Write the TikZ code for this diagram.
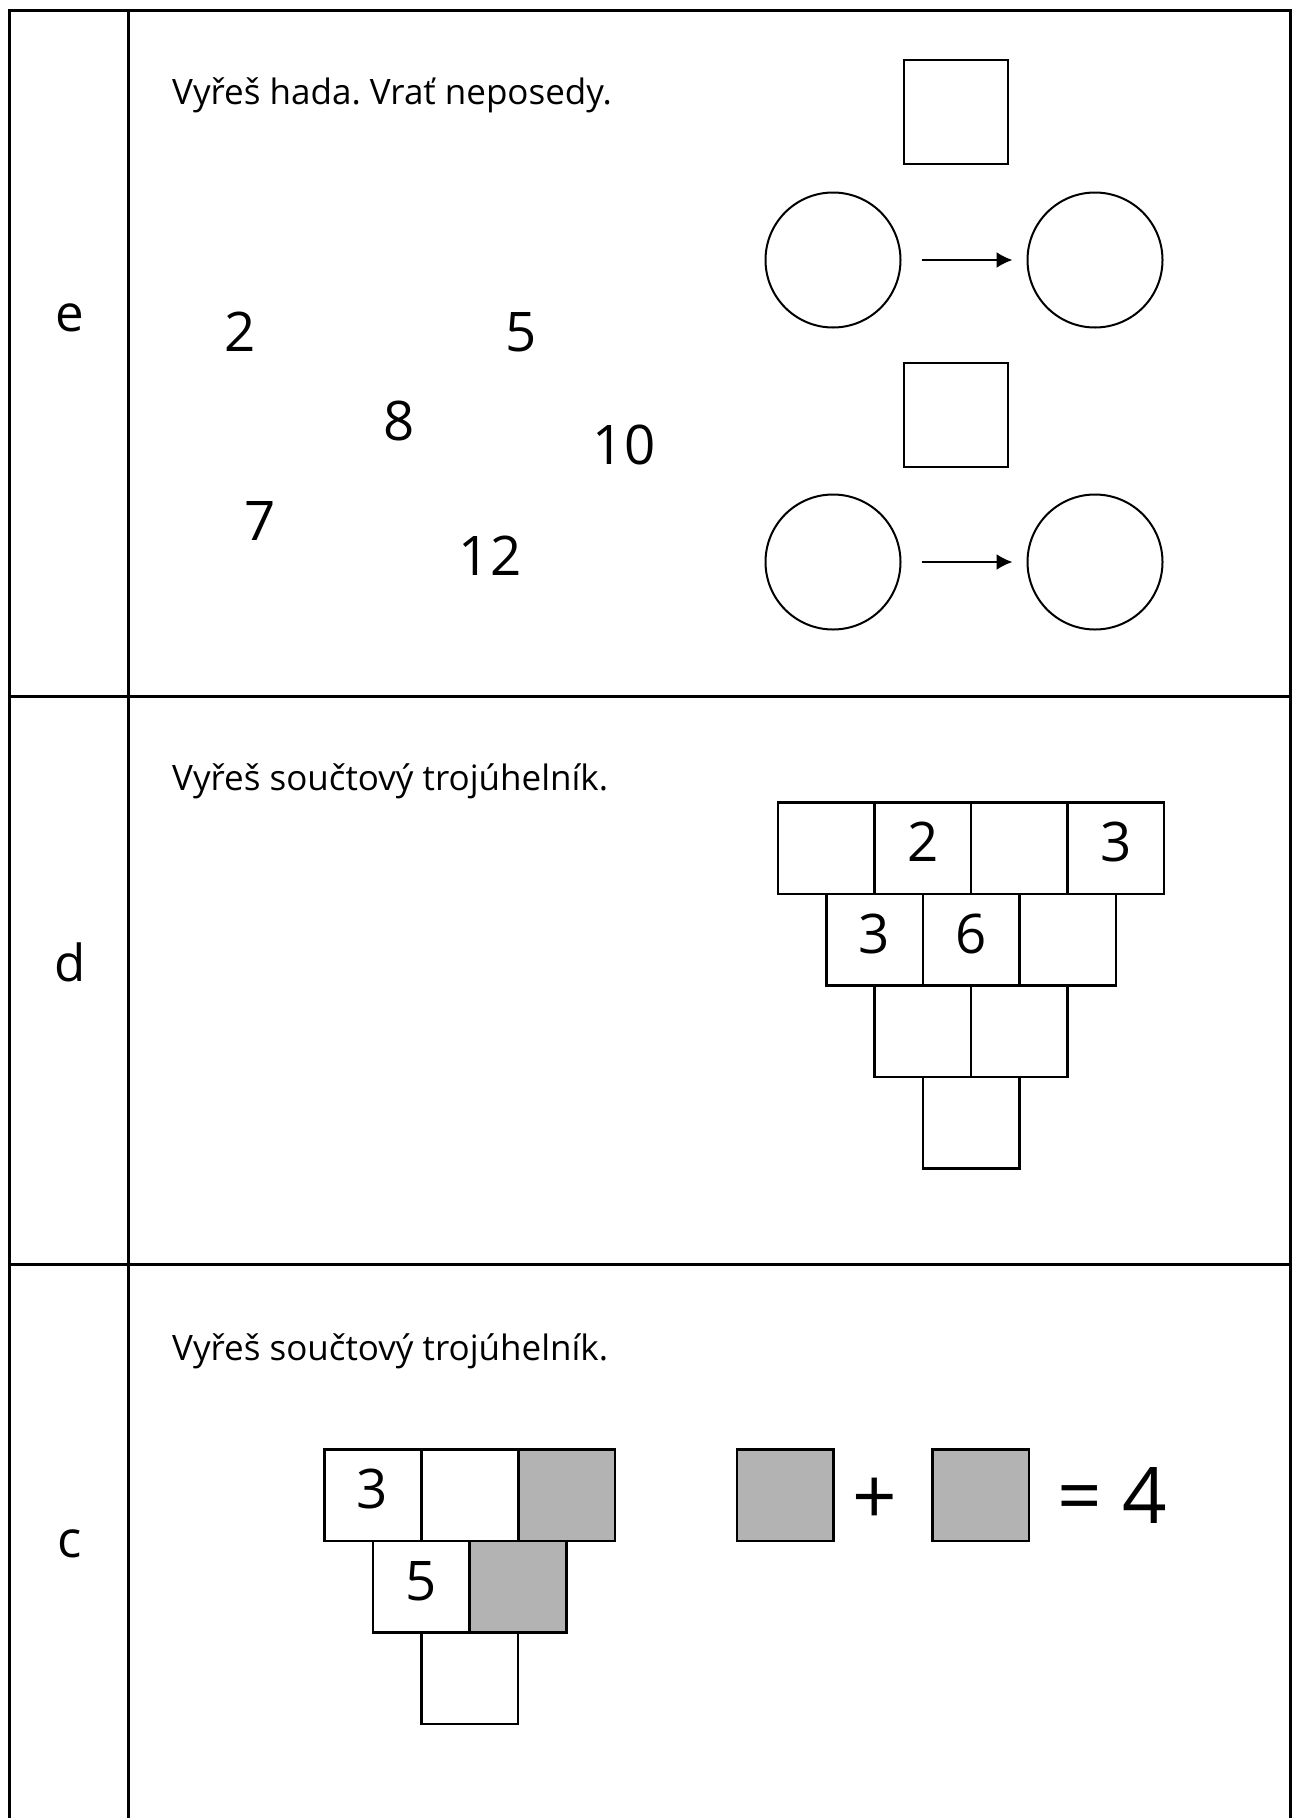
\documentclass[tikz,border=0pt]{standalone}
\usepackage{fontspec}
\setmainfont{Open Sans}
\usetikzlibrary{arrows.meta}
\frenchspacing
\definecolor{boxgray}{HTML}{B3B3B3}
\tikzset{
  frame/.style={line width=3pt},
  cell/.style={draw,line width=2.5pt,minimum width=96.5pt,minimum height=91.5pt,inner sep=0pt,text height=39pt,text depth=12pt,font=\fontsize{54.6}{60}\selectfont},
  graycell/.style={cell,fill=boxgray},
  ring/.style={draw,circle,line width=2pt,minimum size=135pt,inner sep=0pt},
  slot/.style={draw,line width=2pt,minimum size=104pt,inner sep=0pt},
  num/.style={inner sep=0pt,font=\fontsize{54.6}{60}\selectfont},
  task/.style={anchor=base west,inner sep=0pt,font=\fontsize{35}{41}\selectfont},
  level/.style={anchor=base,inner sep=0pt,font=\fontsize{51}{58}\selectfont},
}
\begin{document}
\begin{tikzpicture}[x=1pt,y=-1pt,>={Latex[length=16pt,width=16pt]}]
  \useasboundingbox (0,0) rectangle (1291,1818);
  % frame of the sheet
  \draw[frame] (1290,1818) -- (1290,10) -- (9,10) -- (9,1818);
  \draw[frame] (128,10) -- (128,1818);
  \draw[frame] (9,696) -- (1290,696);
  \draw[frame] (9,1264) -- (1290,1264);

  \node[level] (lvle) at (70,331) {e};
  \node[level] (lvld) at (70,981) {d};
  \node[level] (lvlc) at (70,1557) {c};

  % e: snake
  \node[task] (taske) at (172,104) {Vyřeš hada. Vrať neposedy.};
  \node[num] (n2) at (240,332) {2};
  \node[num] (n5) at (521,332) {5};
  \node[num] (n8) at (399,421) {8};
  \node[num] (n10) at (624,445) {10};
  \node[num] (n7) at (260,521) {7};
  \node[num] (n12) at (490,556) {12};

  \node[slot] (sqa) at (956,112) {};
  \node[ring] (ina) at (833,260) {};
  \node[ring] (outa) at (1095,260) {};
  \node[slot] (sqb) at (956,415) {};
  \node[ring] (inb) at (833,562) {};
  \node[ring] (outb) at (1095,562) {};
  \draw[->,line width=2pt,shorten <=20pt,shorten >=14pt] (ina) -- (outa);
  \draw[->,line width=2pt,shorten <=20pt,shorten >=14pt] (inb) -- (outb);

  % d: sum triangle
  \node[task] (taskd) at (172,790) {Vyřeš součtový trojúhelník.};
  \node[cell] (d11) at (826.25,848) {};
  \node[cell] (d12) at (922.75,848) {2};
  \node[cell] (d13) at (1019.25,848) {};
  \node[cell] (d14) at (1115.75,848) {3};
  \node[cell] (d21) at (874.5,939.5) {3};
  \node[cell] (d22) at (971,939.5) {6};
  \node[cell] (d23) at (1067.5,939.5) {};
  \node[cell] (d31) at (922.75,1031) {};
  \node[cell] (d32) at (1019.25,1031) {};
  \node[cell] (d41) at (971,1122.5) {};

  % c: sum triangle with gray cells
  \node[task] (taskc) at (172,1360) {Vyřeš součtový trojúhelník.};
  \node[cell] (c11) at (372.5,1495) {3};
  \node[cell] (c12) at (469.5,1495) {};
  \node[graycell] (c13) at (566.5,1495) {};
  \node[cell] (c21) at (421,1586.5) {5};
  \node[graycell] (c22) at (518,1586.5) {};
  \node[cell] (c31) at (469.5,1678) {};

  \node[graycell] (ga) at (785,1495) {};
  \node[num,font=\fontsize{78}{86}\selectfont] (plus) at (875,1501) {+};
  \node[graycell] (gb) at (980.5,1495) {};
  \node[num,font=\fontsize{78}{86}\selectfont] (sum) at (1112,1495) {= 4};
\end{tikzpicture}
\end{document}
